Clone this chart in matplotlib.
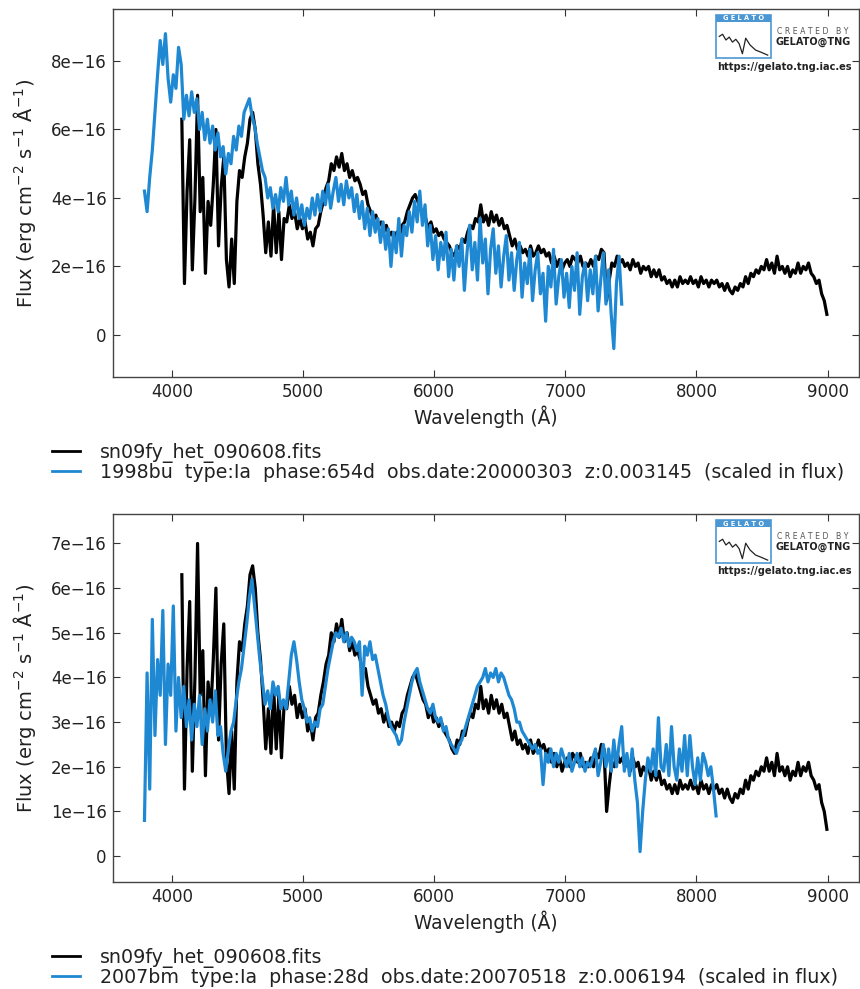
import numpy as np
import matplotlib
matplotlib.use('Agg')
import matplotlib.pyplot as plt
from matplotlib.patches import Rectangle
from matplotlib.ticker import FuncFormatter

# sn09fy_het_090608.fits, sampled every 20 A from 4075 A, flux in 1e-16 erg/cm2/s/A
black_start = 4075
black_step = 20
black_flux = [
    6.3, 1.5, 4.2, 5.7, 1.9, 4.0, 7.0, 3.6, 4.6, 1.8,   # 4075
    3.9, 3.2, 4.4, 6.0, 2.6, 4.3, 5.2, 2.2, 1.4, 2.8,   # 4275
    1.5, 3.9, 4.8, 4.6, 5.2, 5.6, 6.3, 6.5, 6.0, 5.0,   # 4475
    4.4, 3.5, 2.4, 3.3, 2.3, 3.8, 2.4, 3.6, 2.2, 3.4,   # 4675
    3.3, 3.8, 3.4, 3.6, 3.1, 3.4, 3.1, 3.3, 2.8, 3.0,   # 4875
    2.6, 3.1, 3.2, 3.6, 3.9, 4.3, 4.5, 5.0, 4.8, 5.2,   # 5075
    4.9, 5.3, 4.8, 5.0, 4.6, 4.8, 4.5, 4.6, 4.4, 4.1,   # 5275
    4.2, 3.8, 3.6, 3.4, 3.5, 3.2, 3.3, 3.0, 3.2, 2.9,   # 5475
    3.0, 2.8, 3.0, 2.9, 3.2, 3.3, 3.6, 3.8, 4.0, 4.1,   # 5675
    3.9, 3.7, 3.5, 3.4, 3.1, 3.3, 3.0, 3.1, 2.9, 3.0,   # 5875
    2.8, 2.7, 2.6, 2.4, 2.3, 2.6, 2.5, 2.8, 2.7, 3.0,   # 6075
    3.2, 3.1, 3.4, 3.3, 3.8, 3.3, 3.5, 3.2, 3.6, 3.3,   # 6275
    3.5, 3.2, 3.4, 3.1, 3.2, 2.9, 2.6, 2.8, 2.5, 2.6,   # 6475
    2.4, 2.5, 2.3, 2.6, 2.3, 2.4, 2.6, 2.4, 2.5, 2.3,   # 6675
    2.4, 2.1, 2.3, 2.0, 2.2, 1.9, 2.1, 2.2, 2.0, 2.3,   # 6875
    2.2, 2.1, 2.3, 2.0, 2.1, 2.0, 2.2, 2.0, 2.3, 2.2,   # 7075
    2.5, 2.4, 1.0, 1.6, 2.1, 2.0, 2.3, 2.1, 2.2, 2.0,   # 7275
    2.1, 1.9, 2.2, 2.0, 2.1, 1.8, 2.0, 1.9, 2.0, 1.7,   # 7475
    1.9, 1.7, 1.9, 1.6, 1.7, 1.5, 1.6, 1.4, 1.6, 1.4,   # 7675
    1.7, 1.5, 1.6, 1.5, 1.7, 1.5, 1.6, 1.4, 1.7, 1.5,   # 7875
    1.6, 1.4, 1.6, 1.5, 1.6, 1.4, 1.5, 1.3, 1.5, 1.3,   # 8075
    1.2, 1.4, 1.3, 1.5, 1.4, 1.7, 1.5, 1.8, 1.7, 1.9,   # 8275
    1.8, 2.0, 1.9, 2.2, 1.9, 2.1, 1.8, 2.3, 1.9, 2.0,   # 8475
    1.8, 2.0, 1.7, 1.9, 1.8, 2.1, 1.8, 2.0, 1.9, 2.1,   # 8675
    1.8, 1.7, 1.5, 1.6, 1.2, 1.0, 0.6,                  # 8875
]

# 1998bu template, every 20 A from 3790 A
bu_start = 3790
bu_step = 20
bu_flux = [
    4.2, 3.6, 4.6, 5.4, 6.5, 7.6, 8.6, 7.9, 8.8, 7.5,   # 3790
    6.8, 7.6, 7.2, 8.4, 7.9, 6.3, 7.0, 6.4, 7.1, 6.5,   # 3990
    6.9, 6.0, 6.5, 5.7, 6.3, 5.6, 6.1, 5.4, 5.9, 5.2,   # 4190
    5.5, 4.7, 5.3, 5.0, 5.8, 5.4, 6.1, 5.8, 6.5, 6.7,   # 4390
    6.9, 6.4, 6.1, 5.6, 5.2, 4.8, 4.6, 4.0, 4.3, 3.7,   # 4590
    4.1, 3.6, 4.3, 3.9, 4.6, 3.8, 4.2, 3.5, 4.0, 3.4,   # 4790
    3.8, 3.2, 3.7, 3.4, 4.0, 3.5, 4.1, 3.6, 4.2, 3.8,   # 4990
    4.4, 3.7, 4.2, 4.6, 3.9, 4.4, 3.8, 4.5, 4.0, 4.3,   # 5190
    3.6, 4.1, 3.4, 3.9, 3.1, 3.7, 2.9, 3.6, 3.0, 3.4,   # 5390
    2.7, 3.3, 2.5, 3.1, 2.0, 3.0, 2.4, 3.4, 2.3, 3.2,   # 5590
    2.9, 3.6, 3.0, 3.9, 3.3, 4.2, 3.2, 3.8, 2.6, 3.2,   # 5790
    2.2, 2.9, 1.9, 2.7, 2.2, 3.0, 1.7, 2.5, 1.6, 2.6,   # 5990
    2.0, 2.8, 1.3, 2.4, 3.2, 1.9, 2.7, 1.6, 3.4, 2.1,   # 6190
    2.8, 1.2, 2.5, 3.1, 1.8, 2.6, 1.4, 2.3, 2.9, 1.6,   # 6390
    2.4, 1.3, 2.2, 2.7, 1.1, 2.1, 1.5, 2.5, 1.0, 1.9,   # 6590
    2.4, 1.2, 1.8, 0.4, 2.0, 1.4, 2.5, 0.9, 1.7, 2.2,   # 6790
    1.1, 1.8, 0.8, 2.0, 1.3, 2.4, 0.6, 1.7, 2.1, 1.0,   # 6990
    1.9, 1.2, 2.3, 0.7, 1.6, 2.4, 0.9, 1.9, 0.6, -0.4,  # 7190
    1.5, 2.3, 0.9,                                      # 7390
]

# 2007bm template, every 20 A from 3790 A
bm_start = 3790
bm_step = 20
bm_flux = [
    0.8, 4.1, 1.5, 5.3, 2.7, 4.4, 3.6, 5.5, 2.5, 4.3,   # 3790
    3.6, 5.6, 2.8, 4.0, 3.1, 3.8, 2.9, 3.5, 2.6, 3.4,   # 3990
    2.9, 3.6, 2.5, 3.3, 2.8, 3.5, 3.0, 3.7, 2.7, 2.9,   # 4190
    2.3, 1.9, 2.4, 2.8, 3.0, 3.5, 3.9, 4.2, 4.7, 5.2,   # 4390
    5.8, 6.2, 5.6, 5.0, 4.4, 3.9, 3.4, 3.7, 3.3, 3.9,   # 4590
    3.6, 3.8, 3.3, 3.5, 3.3, 3.9, 4.5, 4.8, 4.4, 3.9,   # 4790
    3.5, 3.3, 3.0, 3.1, 2.8, 3.0, 2.9, 3.3, 3.4, 3.8,   # 4990
    4.2, 4.5, 4.8, 5.0, 4.9, 5.1, 4.8, 5.0, 4.7, 4.9,   # 5190
    4.8, 4.6, 4.8, 3.6, 4.7, 4.5, 4.8, 4.4, 4.5, 4.2,   # 5390
    3.9, 3.6, 3.4, 3.1, 2.9, 2.8, 2.7, 2.5, 2.6, 3.0,   # 5590
    3.3, 3.6, 3.9, 4.1, 4.2, 3.9, 3.7, 3.5, 3.3, 3.2,   # 5790
    3.4, 3.1, 3.0, 3.1, 2.8, 2.9, 2.6, 2.5, 2.4, 2.3,   # 5990
    2.5, 2.6, 2.8, 3.0, 3.2, 3.4, 3.6, 3.8, 3.9, 4.0,   # 6190
    4.2, 3.9, 4.1, 4.0, 4.2, 3.9, 4.1, 4.0, 3.8, 3.6,   # 6390
    3.5, 3.3, 3.0, 3.0, 2.8, 2.7, 2.6, 2.5, 2.4, 2.5,   # 6590
    2.3, 2.4, 1.6, 2.3, 2.1, 2.4, 2.0, 2.3, 2.1, 2.4,   # 6790
    2.2, 2.0, 2.3, 1.9, 2.1, 2.3, 2.0, 2.2, 1.9, 2.1,   # 6990
    2.0, 2.2, 2.4, 1.8, 2.1, 2.5, 2.0, 2.4, 1.9, 2.6,   # 7190
    2.0, 2.5, 2.9, 1.9, 2.3, 1.8, 2.4, 1.7, 1.2, 0.1,   # 7390
    1.0, 1.7, 2.2, 1.9, 2.4, 1.8, 3.1, 2.0, 1.9, 2.5,   # 7590
    1.8, 2.9, 2.0, 1.7, 2.4, 1.9, 2.7, 1.8, 2.7, 2.0,   # 7790
    1.6, 2.2, 1.7, 2.3, 2.1, 1.8, 2.0, 1.5, 0.9,        # 7990
]

obs_label = 'sn09fy_het_090608.fits'
top_label = '1998bu  type:Ia  phase:654d  obs.date:20000303  z:0.003145  (scaled in flux)'
bot_label = '2007bm  type:Ia  phase:28d  obs.date:20070518  z:0.006194  (scaled in flux)'
top_yticks = [0, 2e-16, 4e-16, 6e-16, 8e-16]
bot_yticks = [0, 1e-16, 2e-16, 3e-16, 4e-16, 5e-16, 6e-16, 7e-16]
xticks = [4000, 5000, 6000, 7000, 8000, 9000]

# little drawing inside the logo box (box-relative coords)
logo_x = [0.06, 0.12, 0.18, 0.24, 0.30, 0.36, 0.42, 0.48, 0.54, 0.62, 0.72, 0.82, 0.94]
logo_y = [0.60, 0.66, 0.50, 0.58, 0.44, 0.52, 0.40, 0.12, 0.55, 0.36, 0.22, 0.16, 0.08]

BLUE = '#1f88d2'
W, H = 860, 989


def spectrum(start, step, flux):
    wl = start + step * np.arange(len(flux))
    return wl, np.array(flux) * 1e-16


def fmt(v, pos):
    return ('%g' % v).replace('-', '\u2212')


def fx(px):
    return px / W


def fy(py):
    return 1 - py / H


def draw_logo(fig, dy):
    fig.add_artist(Rectangle((fx(716), fy(58 + dy)), fx(55), 43 / H, transform=fig.transFigure,
                             fill=False, edgecolor='#4a97d4', lw=1.2))
    fig.add_artist(Rectangle((fx(716), fy(22 + dy)), fx(55), 7 / H, transform=fig.transFigure,
                             facecolor='#4a97d4', edgecolor='none'))
    fig.text(fx(743.5), fy(18.5 + dy), 'G E L A T O', color='white', fontsize=4.8,
             ha='center', va='center', weight='bold')
    lx = [fx(716 + 55 * v) for v in logo_x]
    ly = [fy(58 + dy - 36 * v) for v in logo_y]
    fig.add_artist(plt.Line2D(lx, ly, transform=fig.transFigure, color='#222222', lw=0.9))
    fig.text(fx(813), fy(31.5 + dy), 'C R E A T E D   B Y', fontsize=5.6, color='#555555',
             ha='center', va='center')
    fig.text(fx(813), fy(42 + dy), 'GELATO@TNG', fontsize=7, weight='bold', color='#222222',
             ha='center', va='center')
    fig.text(fx(784), fy(66.5 + dy), 'https://gelato.tng.iac.es', fontsize=7.1, weight='bold',
             color='#222222', ha='center', va='center')


fig = plt.figure(figsize=(8.6, 9.89), dpi=100)

# axes top/bottom px, template, label, yticks, ylim, legend top px, logo offset
panels = [
    (9, 377, bu_start, bu_step, bu_flux, top_label, top_yticks, (-1.23e-16, 9.52e-16), 443, 0),
    (514, 882, bm_start, bm_step, bm_flux, bot_label, bot_yticks, (-0.58e-16, 7.66e-16), 948, 505),
]

bwl, bfl = spectrum(black_start, black_step, black_flux)

for top, bottom, st, sp, fl, lab, yt, ylim, leg_y, dy in panels:
    ax = fig.add_axes([fx(113), fy(bottom), fx(859 - 113), (bottom - top) / H])
    twl, tfl = spectrum(st, sp, fl)
    ax.plot(bwl, bfl, color='black', lw=2.3, label=obs_label)
    ax.plot(twl, tfl, color=BLUE, lw=2.3, label=lab)
    ax.set_xlim(3550, 9240)
    ax.set_ylim(*ylim)
    ax.set_xticks(xticks)
    ax.set_yticks(yt)
    ax.yaxis.set_major_formatter(FuncFormatter(fmt))
    ax.tick_params(direction='in', top=True, right=True, length=5, width=0.8,
                   labelsize=12, colors='#333333', labelcolor='#222222', pad=4.5)
    for s in ax.spines.values():
        s.set_color('#444444')
        s.set_linewidth(1.0)
    ax.set_xlabel('Wavelength (Å)', fontsize=13.4, color='#222222', labelpad=3)
    ax.set_ylabel('Flux (erg cm$^{-2}$ s$^{-1}$ Å$^{-1}$)', fontsize=14, color='#222222')
    ax.yaxis.set_label_coords(-0.101, 0.5)
    leg = fig.legend(handles=ax.get_lines(), loc='upper left', bbox_to_anchor=(fx(52), fy(leg_y)),
                     frameon=False, fontsize=13.7, borderpad=0, borderaxespad=0, handlelength=1.47,
                     handletextpad=1.05, labelspacing=0.0, labelcolor='#222222')
    for h in leg.legend_handles:
        h.set_linewidth(2.0)
    draw_logo(fig, dy)

fig.savefig('out.png', dpi=100)
